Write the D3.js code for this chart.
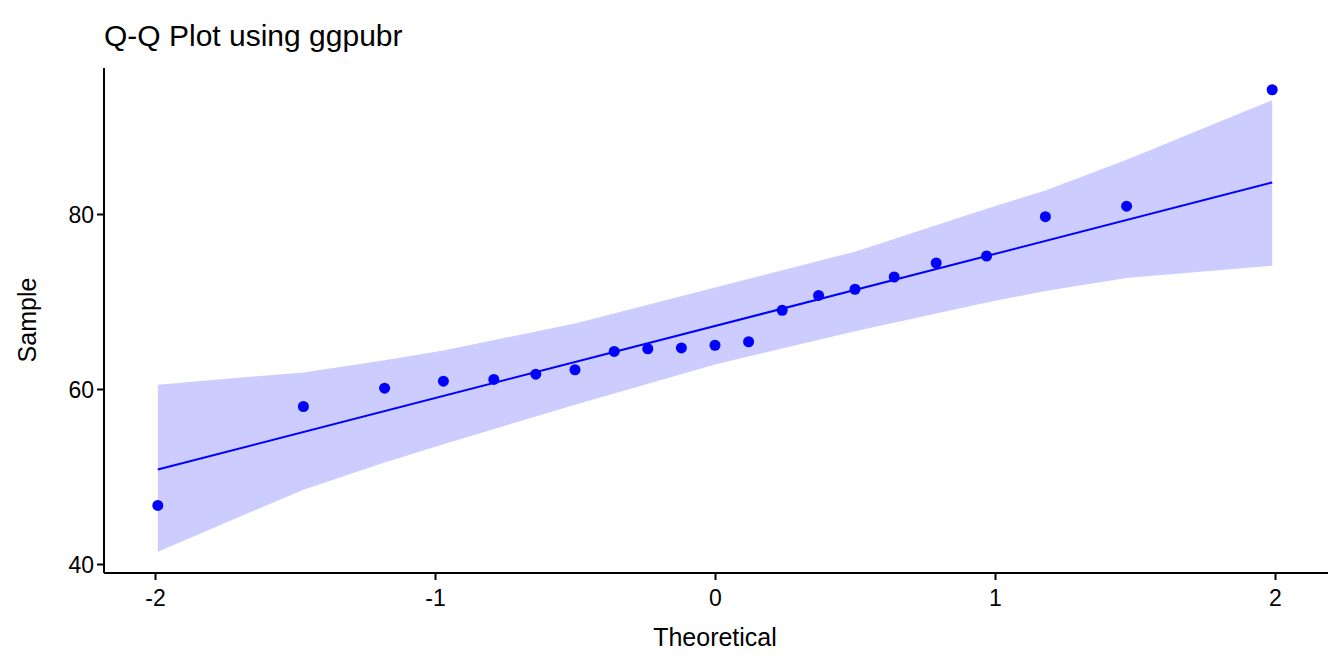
<!DOCTYPE html>
<html><head><meta charset="utf-8">
<script src="https://cdn.jsdelivr.net/npm/d3@7"></script>
<style>body{margin:0;background:#fff;font-family:"Liberation Sans",Arial,sans-serif}</style>
</head><body><div id="chart"></div>
<script>
// sample quantiles
const theoretical = [-1.99,-1.47,-1.18,-0.97,-0.79,-0.64,-0.50,-0.36,-0.24,-0.12,0,0.12,0.24,0.37,0.50,0.64,0.79,0.97,1.18,1.47,1.99];
const sample = [46.7,58.0,60.1,60.9,61.1,61.7,62.2,64.3,64.6,64.7,65.0,65.4,69.0,70.7,71.4,72.8,74.4,75.2,79.7,80.9,94.2];
// confidence band
const bandX = [-1.99,-1.47,-1.18,-0.97,-0.5,0,0.5,0.97,1.18,1.47,1.99];
const bandLo = [41.4,48.5,51.6,53.7,58.2,62.8,66.6,69.9,71.2,72.7,74.1];
const bandHi = [60.5,61.9,63.3,64.4,67.5,71.6,75.7,80.6,82.7,86.2,93.0];
// reference line
const lineX = [-1.99,1.99];
const lineY = [50.8,83.6];
const xTicks = [-2,-1,0,1,2];
const yTicks = [40,60,80];

const width = 1344, height = 672;
const svg = d3.select("#chart").append("svg").attr("width", width).attr("height", height);

const x = d3.scaleLinear().domain([-2, 2]).range([155, 1275]);
const y = d3.scaleLinear().domain([40, 80]).range([564, 214]);

svg.append("path")
    .datum(bandX.map((d, i) => [d, bandLo[i], bandHi[i]]))
    .attr("fill", "#ccccff")
    .attr("d", d3.area().x(d => x(d[0])).y0(d => y(d[1])).y1(d => y(d[2])));

svg.append("path")
    .datum(lineX.map((d, i) => [d, lineY[i]]))
    .attr("fill", "none").attr("stroke", "#0000ff").attr("stroke-width", 2)
    .attr("d", d3.line().x(d => x(d[0])).y(d => y(d[1])));

svg.append("g").selectAll("circle")
    .data(theoretical)
    .enter().append("circle")
    .attr("cx", d => x(d))
    .attr("cy", (d, i) => y(sample[i]))
    .attr("r", 5.5)
    .attr("fill", "#0000ff");

const xAxis = svg.append("g").attr("transform", "translate(0,573)")
    .call(d3.axisBottom(x).tickValues(xTicks).tickSize(7).tickFormat(d => String(d)));
xAxis.select(".domain").attr("d", "M104,0H1328");
const yAxis = svg.append("g").attr("transform", "translate(104,0)")
    .call(d3.axisLeft(y).tickValues(yTicks).tickSize(7));
yAxis.select(".domain").attr("d", "M0,68V573");
svg.selectAll(".domain").attr("stroke", "#000").attr("stroke-width", 2);
svg.selectAll(".tick line").attr("stroke", "#000").attr("stroke-width", 2);
svg.selectAll(".tick text").attr("font-size", 23).attr("fill", "#000")
    .attr("font-family", "Liberation Sans, Arial, sans-serif");
xAxis.selectAll(".tick text").attr("dy", "1.0em");
yAxis.selectAll(".tick text").attr("dy", "0.36em");

svg.append("text").attr("x", 715).attr("y", 646).attr("text-anchor", "middle")
    .attr("font-size", 25).text("Theoretical");
svg.append("text").attr("transform", "translate(36,320) rotate(-90)").attr("text-anchor", "middle")
    .attr("font-size", 25).text("Sample");
svg.append("text").attr("x", 104).attr("y", 46)
    .attr("font-size", 30).text("Q-Q Plot using ggpubr");
</script></body></html>
